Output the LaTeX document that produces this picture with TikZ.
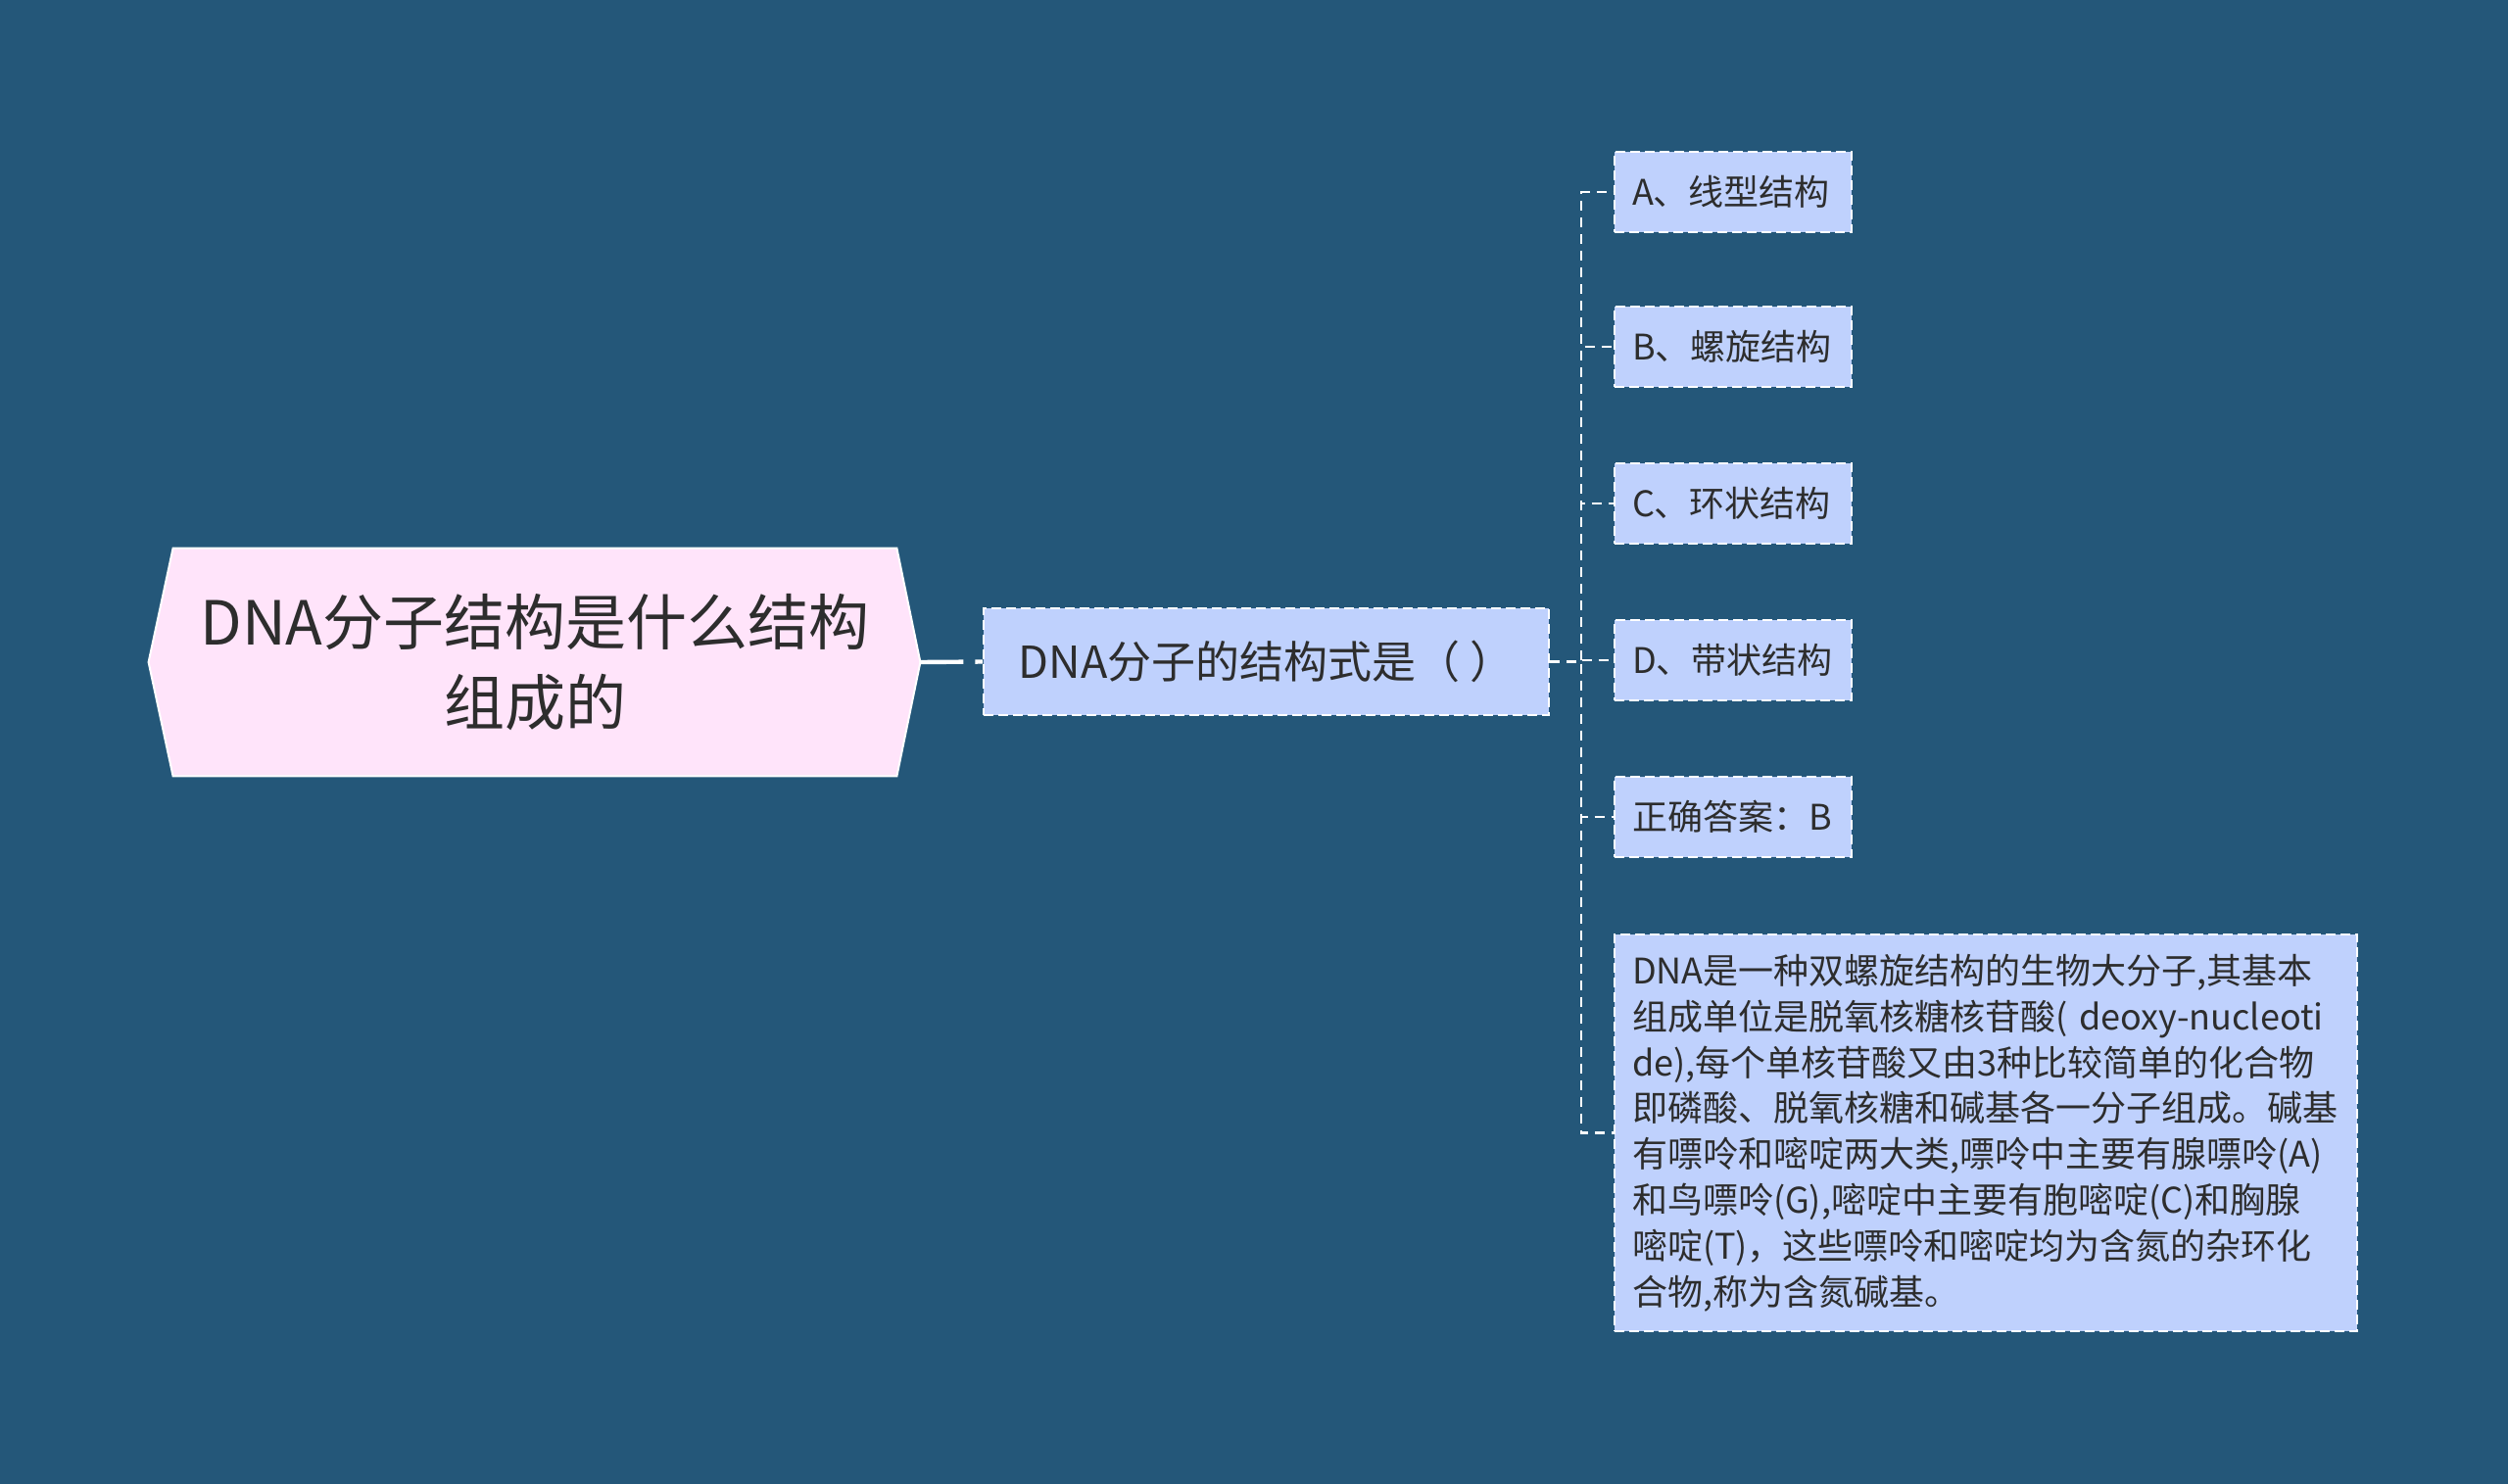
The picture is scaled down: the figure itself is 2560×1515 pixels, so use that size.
\documentclass[tikz,border=0pt]{standalone}
\usepackage{fontspec}
\setmainfont{Noto Sans CJK SC}
\usetikzlibrary{positioning,backgrounds,calc}

\begin{document}
\begin{tikzpicture}[x=0.5pt,y=-0.5pt,
  link/.style={draw=white,line width=1.4pt,dash pattern=on 5pt off 3.5pt},
  trunk/.style={draw=white,line width=2.2pt,dash pattern=on 22pt off 6pt},
  leafbox/.style={draw=white,line width=1pt,dash pattern=on 5pt off 2.5pt,fill=leaf,text=ink,
    inner xsep=9pt,inner ysep=0pt,align=left,anchor=west,minimum height=41pt},
  rootbox/.style={inner sep=0pt,minimum width=369pt,minimum height=116pt,align=center,text=ink,
    font=\fontsize{31}{41}\selectfont}]
\definecolor{page}{RGB}{36,87,121}
\definecolor{rootfill}{RGB}{255,228,250}
\definecolor{leaf}{RGB}{191,209,253}
\definecolor{ink}{RGB}{45,45,45}
\useasboundingbox (0,0) rectangle (2560,1515);
% root and question
\node [rootbox] (root) at (546,676) {DNA分子结构是什么结构\\组成的};
\coordinate (rtip) at ($ (root.east)+(24,0) $);
\coordinate (ltip) at ($ (root.west)+(-25,0) $);
\node [leafbox,minimum width=288.5pt,minimum height=54.5pt,inner xsep=8pt,anchor=center,
  font=\fontsize{22.5}{28}\selectfont] (ask) at (1292.5,675.5) {DNA分子的结构式是（ ）};
% options
\foreach \n/\y/\t in {optA/196/A、线型结构,optB/354/B、螺旋结构,optC/514/C、环状结构,
  optD/674/D、带状结构,answer/834/正确答案：B}
  \node [leafbox,text width=103pt,font=\fontsize{18}{23.4}\selectfont] (\n) at (1647,\y) {\t};
\node [leafbox,anchor=north west,text width=361pt,inner ysep=8pt,minimum height=202.5pt,
  font=\fontsize{18}{23.4}\selectfont] (detail) at (1647,953)
  {DNA是一种双螺旋结构的生物大分子,其基本\\
   组成单位是脱氧核糖核苷酸( deoxy-nucleoti\\
   de),每个单核苷酸又由3种比较简单的化合物\\
   即磷酸、脱氧核糖和碱基各一分子组成。碱基\\
   有嘌呤和嘧啶两大类,嘌呤中主要有腺嘌呤(A)\\
   和鸟嘌呤(G),嘧啶中主要有胞嘧啶(C)和胸腺\\
   嘧啶(T)，这些嘌呤和嘧啶均为含氮的杂环化\\
   合物,称为含氮碱基。};
\draw [trunk] (rtip) -- (ask.west);
\foreach \n in {optA,optB,optC,optD,answer,detail}
  \draw [link] (ask.east) -- ++(32,0) |- (\n.west);
\begin{pgfonlayer}{background}
\fill [page] (0,0) rectangle (2560,1515);
\filldraw [fill=rootfill,draw=white,line width=1pt] (root.north west) -- (root.north east)
  -- (rtip) -- (root.south east) -- (root.south west) -- (ltip) -- cycle;
\end{pgfonlayer}
\end{tikzpicture}
\end{document}
